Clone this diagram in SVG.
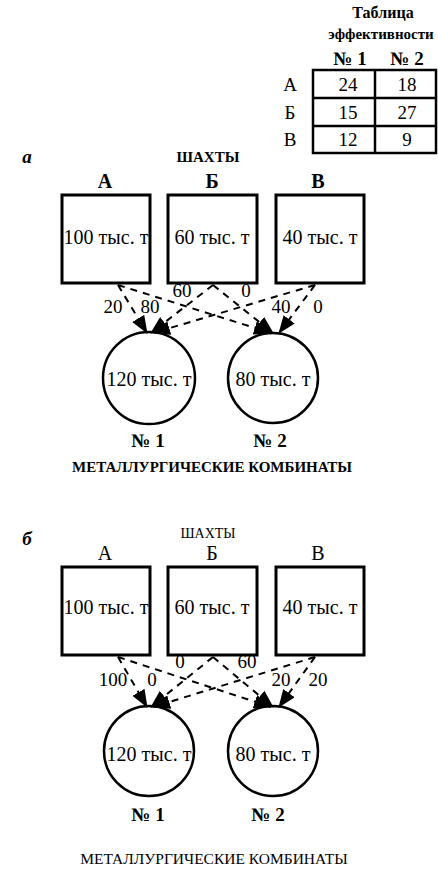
<svg xmlns="http://www.w3.org/2000/svg" width="438" height="871" viewBox="0 0 438 871" font-family="'Liberation Serif', 'Times New Roman', serif">
<style>
.t{font-family:'Liberation Serif','Times New Roman',serif;fill:#000;text-anchor:middle}
.big{font-size:20px}
.hdr{font-size:20px;font-weight:bold}
.cap{font-size:15px;font-weight:bold}
.lbl{font-size:19px}
.box{fill:#fff;stroke:#000;stroke-width:3}
.circ{fill:#fff;stroke:#000;stroke-width:2.5}
.edge{fill:none;stroke:#000;stroke-width:2;stroke-dasharray:7 6;marker-end:url(#ah)}
.tb{fill:none;stroke:#000;stroke-width:2.5}
</style>
<defs>
<marker id="ah" markerUnits="userSpaceOnUse" markerWidth="18" markerHeight="14" viewBox="0 0 18 14" refX="17" refY="7" orient="auto">
<path d="M0,0 L18,7 L0,14 z" fill="#000"/>
</marker>
</defs>
<rect width="438" height="871" fill="#fff"/>

<g id="table">
<text class="t" x="383" y="18" font-size="16" font-weight="bold">Таблица</text>
<text class="t" x="381" y="39" font-size="15" font-weight="bold">эффективности</text>
<text class="t lbl" x="350" y="65" font-weight="bold">№ 1</text>
<text class="t lbl" x="407" y="65" font-weight="bold">№ 2</text>
<text class="t lbl" x="290" y="91">А</text>
<text class="t lbl" x="290" y="119">Б</text>
<text class="t lbl" x="290" y="146">В</text>
<rect class="tb" x="313" y="70" width="123" height="83" stroke-width="3"/>
<line class="tb" x1="375" y1="70" x2="375" y2="153"/>
<line class="tb" x1="313" y1="98" x2="436" y2="98"/>
<line class="tb" x1="313" y1="126" x2="436" y2="126"/>
<text class="t lbl" x="348" y="91">24</text>
<text class="t lbl" x="407" y="91">18</text>
<text class="t lbl" x="348" y="119">15</text>
<text class="t lbl" x="407" y="119">27</text>
<text class="t lbl" x="348" y="146">12</text>
<text class="t lbl" x="407" y="146">9</text>
</g>

<!-- Section a -->
<text class="t" x="27" y="163" font-size="19" font-weight="bold" font-style="italic">а</text>
<text class="t" x="208" y="162" font-size="15" font-weight="bold">ШАХТЫ</text>
<g id="a-mineA">
<text class="t hdr" x="105" y="188">А</text>
<rect class="box" x="62" y="195" width="88" height="88"/>
<text class="t big" x="106" y="244">100 тыс. т</text>
</g>
<g id="a-mineB">
<text class="t hdr" x="212" y="188">Б</text>
<rect class="box" x="168" y="195" width="89" height="88"/>
<text class="t big" x="212" y="244">60 тыс. т</text>
</g>
<g id="a-mineV">
<text class="t hdr" x="318" y="188">В</text>
<rect class="box" x="276" y="195" width="88" height="88"/>
<text class="t big" x="320" y="244">40 тыс. т</text>
</g>
<g id="a-plant1">
<circle class="circ" cx="149" cy="378" r="46"/>
<text class="t big" x="149" y="386">120 тыс. т</text>
<text class="t lbl" x="148" y="447" font-weight="bold">№ 1</text>
</g>
<g id="a-plant2">
<circle class="circ" cx="273" cy="378" r="45"/>
<text class="t big" x="273" y="386">80 тыс. т</text>
<text class="t lbl" x="270" y="447" font-weight="bold">№ 2</text>
</g>
<text class="t cap" x="212" y="472">МЕТАЛЛУРГИЧЕСКИЕ КОМБИНАТЫ</text>
<g id="a-edges">
<line class="edge" x1="118" y1="285" x2="147" y2="333"/>
<line class="edge" x1="118" y1="285" x2="271" y2="333"/>
<line class="edge" x1="213" y1="285" x2="151" y2="333"/>
<line class="edge" x1="213" y1="285" x2="273" y2="333"/>
<line class="edge" x1="315" y1="285" x2="153" y2="333"/>
<line class="edge" x1="315" y1="285" x2="279" y2="333"/>
<text class="t lbl" x="113" y="313">20</text>
<text class="t lbl" x="150" y="313">80</text>
<text class="t lbl" x="182" y="297">60</text>
<text class="t lbl" x="246" y="297">0</text>
<text class="t lbl" x="281" y="313">40</text>
<text class="t lbl" x="318" y="313">0</text>
</g>

<!-- Section b -->
<text class="t" x="27" y="545" font-size="19" font-weight="bold" font-style="italic">б</text>
<text class="t" x="208" y="538" font-size="14">ШАХТЫ</text>
<g id="b-mineA">
<text class="t big" x="105" y="560">А</text>
<rect class="box" x="62" y="567" width="88" height="88"/>
<text class="t big" x="106" y="614">100 тыс. т</text>
</g>
<g id="b-mineB">
<text class="t big" x="212" y="560">Б</text>
<rect class="box" x="168" y="567" width="89" height="88"/>
<text class="t big" x="212" y="614">60 тыс. т</text>
</g>
<g id="b-mineV">
<text class="t big" x="318" y="560">В</text>
<rect class="box" x="276" y="567" width="88" height="88"/>
<text class="t big" x="320" y="614">40 тыс. т</text>
</g>
<g id="b-plant1">
<circle class="circ" cx="149" cy="751" r="45"/>
<text class="t big" x="149" y="761">120 тыс. т</text>
<text class="t lbl" x="148" y="821" font-weight="bold">№ 1</text>
</g>
<g id="b-plant2">
<circle class="circ" cx="273" cy="751" r="45"/>
<text class="t big" x="273" y="761">80 тыс. т</text>
<text class="t lbl" x="268" y="821" font-weight="bold">№ 2</text>
</g>
<text class="t" x="214" y="864" font-size="15.5">МЕТАЛЛУРГИЧЕСКИЕ КОМБИНАТЫ</text>
<g id="b-edges">
<line class="edge" x1="118" y1="657" x2="147" y2="707"/>
<line class="edge" x1="118" y1="657" x2="271" y2="707"/>
<line class="edge" x1="213" y1="657" x2="151" y2="707"/>
<line class="edge" x1="213" y1="657" x2="273" y2="707"/>
<line class="edge" x1="315" y1="657" x2="153" y2="707"/>
<line class="edge" x1="315" y1="657" x2="279" y2="707"/>
<text class="t lbl" x="113" y="686">100</text>
<text class="t lbl" x="152" y="686">0</text>
<text class="t lbl" x="180" y="668">0</text>
<text class="t lbl" x="247" y="668">60</text>
<text class="t lbl" x="281" y="686">20</text>
<text class="t lbl" x="318" y="686">20</text>
</g>
</svg>
